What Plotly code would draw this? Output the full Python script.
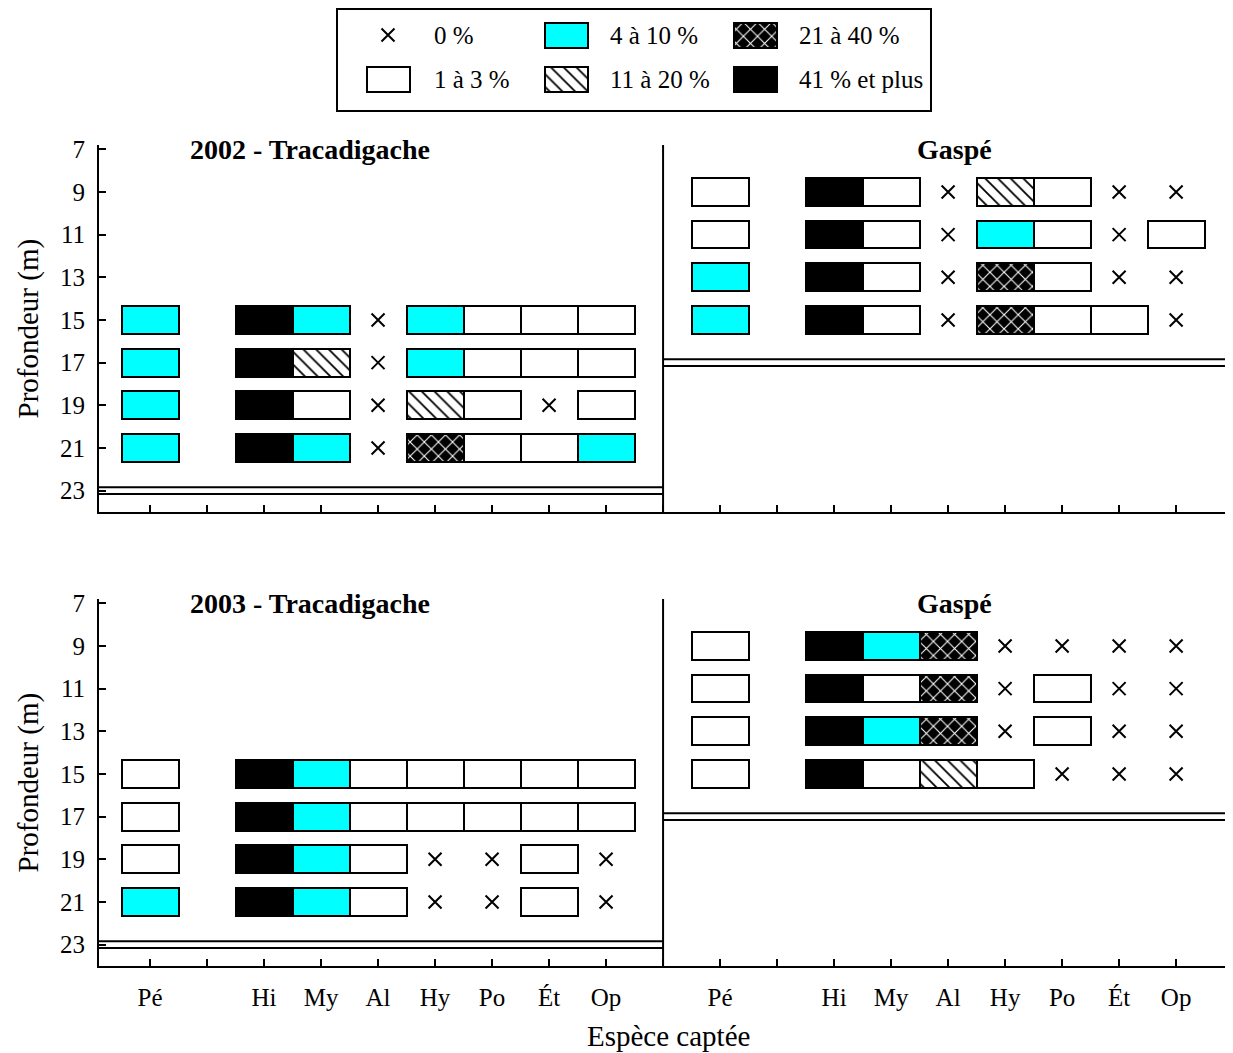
import plotly.graph_objects as go

# ---------------- data ----------------
species = ["Pé", "", "Hi", "My", "Al", "Hy", "Po", "Ét", "Op"]
depth_ticks = [7, 9, 11, 13, 15, 17, 19, 21, 23]
depths_trac = [15, 17, 19, 21]
depths_gaspe = [9, 11, 13, 15]
N = None
# codes: 0 = 0 %, 1 = 1 à 3 %, 2 = 4 à 10 %, 3 = 11 à 20 %, 4 = 21 à 40 %, 5 = 41 % et plus
trac_2002 = [
    [2, N, 5, 2, 0, 2, 1, 1, 1],
    [2, N, 5, 3, 0, 2, 1, 1, 1],
    [2, N, 5, 1, 0, 3, 1, 0, 1],
    [2, N, 5, 2, 0, 4, 1, 1, 2],
]
gaspe_2002 = [
    [1, N, 5, 1, 0, 3, 1, 0, 0],
    [1, N, 5, 1, 0, 2, 1, 0, 1],
    [2, N, 5, 1, 0, 4, 1, 0, 0],
    [2, N, 5, 1, 0, 4, 1, 1, 0],
]
trac_2003 = [
    [1, N, 5, 2, 1, 1, 1, 1, 1],
    [1, N, 5, 2, 1, 1, 1, 1, 1],
    [1, N, 5, 2, 1, 0, 0, 1, 0],
    [2, N, 5, 2, 1, 0, 0, 1, 0],
]
gaspe_2003 = [
    [1, N, 5, 2, 4, 0, 0, 0, 0],
    [1, N, 5, 1, 4, 0, 1, 0, 0],
    [1, N, 5, 2, 4, 0, 1, 0, 0],
    [1, N, 5, 1, 3, 1, 0, 0, 0],
]
seafloor_trac = 23
seafloor_gaspe = 17
class_labels = ["0 %", "1 à 3 %", "4 à 10 %", "11 à 20 %", "21 à 40 %", "41 % et plus"]
panel_titles = ["2002 - Tracadigache", "Gaspé", "2003 - Tracadigache", "Gaspé"]

# ---------------- styles ----------------
FONT = "Liberation Serif"
W, H = 1233, 1053
OFF = 8  # page body margin in the browser
BOX_H = 1.3
BOX_W = 1.0
LW = 2
styles = {
    1: dict(color="white"),
    2: dict(color="#00FFFF"),
    3: dict(color="white", pattern=dict(shape="\\", fgcolor="black", bgcolor="white",
                                        size=9, solidity=0.2)),
    4: dict(color="black", pattern=dict(shape="x", fgcolor="white", bgcolor="black",
                                        size=10, solidity=0.2)),
    5: dict(color="black"),
}


def fx(p):
    return (p - OFF) / W


def fy(p):
    return 1 - (p - OFF) / H


fig = go.Figure()

panels = [
    (trac_2002, depths_trac, 0, "x", "y"),
    (gaspe_2002, depths_gaspe, 10, "x", "y"),
    (trac_2003, depths_trac, 0, "x2", "y2"),
    (gaspe_2003, depths_gaspe, 10, "x2", "y2"),
]

for data, depths, off, xa, ya in panels:
    for code in range(6):
        xs, ds = [], []
        for d, row in zip(depths, data):
            for i, v in enumerate(row):
                if v == code:
                    xs.append(i + off)
                    ds.append(d)
        if not xs:
            continue
        if code == 0:
            fig.add_trace(go.Scatter(
                x=xs, y=ds, mode="markers", xaxis=xa, yaxis=ya, showlegend=False,
                marker=dict(symbol="x-thin", size=13, color="black",
                            line=dict(width=2, color="black")),
                hoverinfo="skip"))
        else:
            fig.add_trace(go.Bar(
                x=xs, y=[BOX_H] * len(xs), base=[d - BOX_H / 2 for d in ds],
                width=BOX_W, xaxis=xa, yaxis=ya, showlegend=False,
                marker=dict(**styles[code], line=dict(width=LW, color="black")),
                hoverinfo="skip"))

# ---------------- legend (screen-pixel axis) ----------------
leg_items = [
    (0, 388, 35, 432),
    (1, 388, 79, 432),
    (2, 566, 35, 608),
    (3, 566, 79, 608),
    (4, 755, 35, 797),
    (5, 755, 79, 797),
]
for code, cx, cy, tx in leg_items:
    if code == 0:
        fig.add_trace(go.Scatter(
            x=[cx], y=[cy], mode="markers", xaxis="x3", yaxis="y3", showlegend=False,
            marker=dict(symbol="x-thin", size=13, color="black",
                        line=dict(width=2, color="black")), hoverinfo="skip"))
    else:
        fig.add_trace(go.Bar(
            x=[cx], y=[25], base=[cy - 12.5], width=43, xaxis="x3", yaxis="y3",
            showlegend=False,
            marker=dict(**styles[code], line=dict(width=LW, color="black")),
            hoverinfo="skip"))
    fig.add_annotation(x=tx, y=cy, xref="x3", yref="y3", text=class_labels[code],
                       showarrow=False, xanchor="left", yanchor="middle",
                       font=dict(family=FONT, size=25, color="black"))

fig.add_shape(type="rect", xref="x3", yref="y3", x0=337, x1=931, y0=9, y1=111,
              line=dict(color="black", width=LW), fillcolor="rgba(0,0,0,0)", layer="below")

# ---------------- axes ----------------
xdom = [fx(99), fx(1228)]
y1dom = [fy(512), fy(145)]
y2dom = [fy(966), fy(599)]
xrange_ = [-0.895, 18.91]
yrange_ = [24.0, 6.8]
xticks = list(range(19))
xticktext = species + [""] + species

common_x = dict(range=xrange_, domain=xdom, showline=True, linewidth=LW, linecolor="black",
                ticks="inside", ticklen=7, tickwidth=LW, tickcolor="black",
                tickvals=xticks, ticktext=xticktext, showgrid=False, zeroline=False,
                automargin=False, tickfont=dict(family=FONT, size=25, color="black"),
                fixedrange=True)
common_y = dict(range=yrange_, showline=True, linewidth=LW, linecolor="black",
                ticks="inside", ticklen=7, tickwidth=LW, tickcolor="black",
                tickvals=depth_ticks, showgrid=False, zeroline=False, automargin=False,
                tickfont=dict(family=FONT, size=25, color="black"), ticklabelstandoff=7,
                fixedrange=True)

fig.update_layout(
    xaxis=dict(**common_x, anchor="y", showticklabels=False),
    yaxis=dict(**common_y, domain=y1dom, anchor="x"),
    xaxis2=dict(**common_x, anchor="y2", showticklabels=True, ticklabelstandoff=8),
    yaxis2=dict(**common_y, domain=y2dom, anchor="x2"),
    xaxis3=dict(range=[OFF, W + OFF], domain=[0, 1], visible=False, anchor="y3",
                fixedrange=True),
    yaxis3=dict(range=[H + OFF, OFF], domain=[0, 1], visible=False, anchor="x3",
                fixedrange=True),
    width=W, height=H, margin=dict(l=0, r=0, t=0, b=0),
    paper_bgcolor="white", plot_bgcolor="rgba(0,0,0,0)",
    barmode="overlay", bargap=0, showlegend=False,
    font=dict(family=FONT, color="black"),
    template=None,
)

# divider and seafloor double lines
for xa, ya in [("x", "y"), ("x2", "y2")]:
    fig.add_shape(type="line", xref=xa, yref=ya + " domain", x0=9, x1=9, y0=0, y1=1,
                  line=dict(color="black", width=LW))
    for dy in (-0.16, 0.16):
        fig.add_shape(type="line", xref=xa, yref=ya, x0=xrange_[0], x1=9,
                      y0=seafloor_trac + dy, y1=seafloor_trac + dy,
                      line=dict(color="black", width=LW))
        fig.add_shape(type="line", xref=xa, yref=ya, x0=9, x1=xrange_[1],
                      y0=seafloor_gaspe + dy, y1=seafloor_gaspe + dy,
                      line=dict(color="black", width=LW))

# panel titles
title_pos = [(2.8, "x", "y"), (14.12, "x", "y"), (2.8, "x2", "y2"), (14.12, "x2", "y2")]
for t, (px, xa, ya) in zip(panel_titles, title_pos):
    fig.add_annotation(x=px, y=7, xref=xa, yref=ya, text="<b>" + t + "</b>", showarrow=False,
                       xanchor="center", yanchor="middle",
                       font=dict(family=FONT, size=28, color="black"))

# axis titles
for yc in [(145 + 512) / 2, (599 + 966) / 2]:
    fig.add_annotation(x=fx(28), y=fy(yc), xref="paper", yref="paper",
                       text="Profondeur (m)", showarrow=False, textangle=-90,
                       xanchor="center", yanchor="middle",
                       font=dict(family=FONT, size=29, color="black"))
fig.add_annotation(x=fx(668), y=fy(1036), xref="paper", yref="paper",
                   text="Espèce captée", showarrow=False, xanchor="center", yanchor="middle",
                   font=dict(family=FONT, size=29, color="black"))

fig.write_html("out.html")
